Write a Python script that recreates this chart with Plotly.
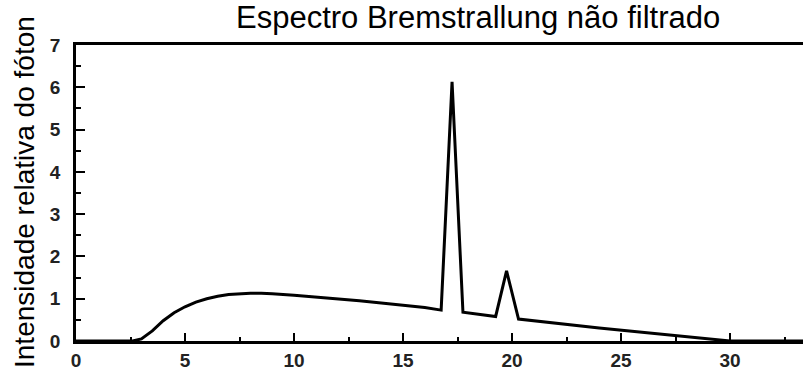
import plotly.graph_objects as go

# Unfiltered bremsstrahlung spectrum: photon energy (keV) vs relative intensity
energy_kev = [0, 2.6, 3.0, 3.5, 4.0, 4.5, 5.0, 5.5, 6.0, 6.5, 7.0, 7.5, 8.0, 8.5,
              9.0, 10.0, 11.0, 12.0, 13.0, 14.0, 15.0, 16.0, 16.75, 17.25, 17.75,
              19.25, 19.75, 20.3, 24.0, 27.0, 30.0, 33.5]
intensity = [0, 0, 0.05, 0.24, 0.48, 0.67, 0.81, 0.92, 1.00, 1.06, 1.10, 1.12, 1.13, 1.13,
             1.12, 1.08, 1.04, 1.00, 0.95, 0.90, 0.85, 0.79, 0.73, 6.13, 0.68,
             0.58, 1.66, 0.52, 0.31, 0.15, 0.0, 0.0]

x_ticks = [0, 5, 10, 15, 20, 25, 30]
y_ticks = [0, 1, 2, 3, 4, 5, 6, 7]

title_text = "Espectro Bremstrallung não filtrado"
y_title = "Intensidade relativa do fóton"

W, H = 803, 371
ML, MR, MT, MB = 76, 0, 45, 30
plot_w = W - ML - MR
plot_h = H - MT - MB

fig = go.Figure()
fig.add_trace(go.Scatter(
    x=energy_kev, y=intensity, mode="lines",
    line=dict(color="black", width=3),
    hoverinfo="skip", showlegend=False,
))

tick_font = dict(family="Liberation Sans, Arial", size=19, color="#222", weight="bold")

fig.update_layout(
    width=W, height=H,
    margin=dict(l=ML, r=MR, t=MT, b=MB, pad=0),
    paper_bgcolor="white", plot_bgcolor="white",
    xaxis=dict(
        range=[0, plot_w / 21.8], tickvals=x_ticks, ticktext=[str(v) for v in x_ticks],
        ticks="inside", ticklen=8, tickwidth=2, tickcolor="black",
        showline=True, linewidth=2.5, linecolor="black", mirror=True,
        showgrid=False, zeroline=False, tickfont=tick_font,
        minor=dict(ticks="inside", ticklen=4, tickwidth=2, tickcolor="black",
                   tick0=2.5, dtick=5, showgrid=False),
    ),
    yaxis=dict(
        range=[0, 7], tickvals=y_ticks, ticktext=[str(v) for v in y_ticks],
        ticks="inside", ticklen=9, tickwidth=2, tickcolor="black",
        showline=True, linewidth=2.5, linecolor="black", mirror=False,
        showgrid=False, zeroline=False, tickfont=tick_font, ticklabelstandoff=9,
        minor=dict(ticks="inside", ticklen=5, tickwidth=2, tickcolor="black",
                   tick0=0.5, dtick=1, showgrid=False),
    ),
)

# Chart title above the frame
fig.add_annotation(
    text=title_text, xref="paper", yref="paper",
    x=(478 - ML) / plot_w, y=1 + (MT - 17) / plot_h,
    xanchor="center", yanchor="middle", showarrow=False,
    font=dict(family="Liberation Sans, Arial", size=31, color="black"),
)

# Rotated y-axis title
fig.add_annotation(
    text=y_title, xref="paper", yref="paper",
    x=(24 - ML) / plot_w, y=(MT + plot_h - 192) / plot_h,
    xanchor="center", yanchor="middle", textangle=-90, showarrow=False,
    font=dict(family="Liberation Sans, Arial", size=28, color="black"),
)

fig.write_html("out.html")
